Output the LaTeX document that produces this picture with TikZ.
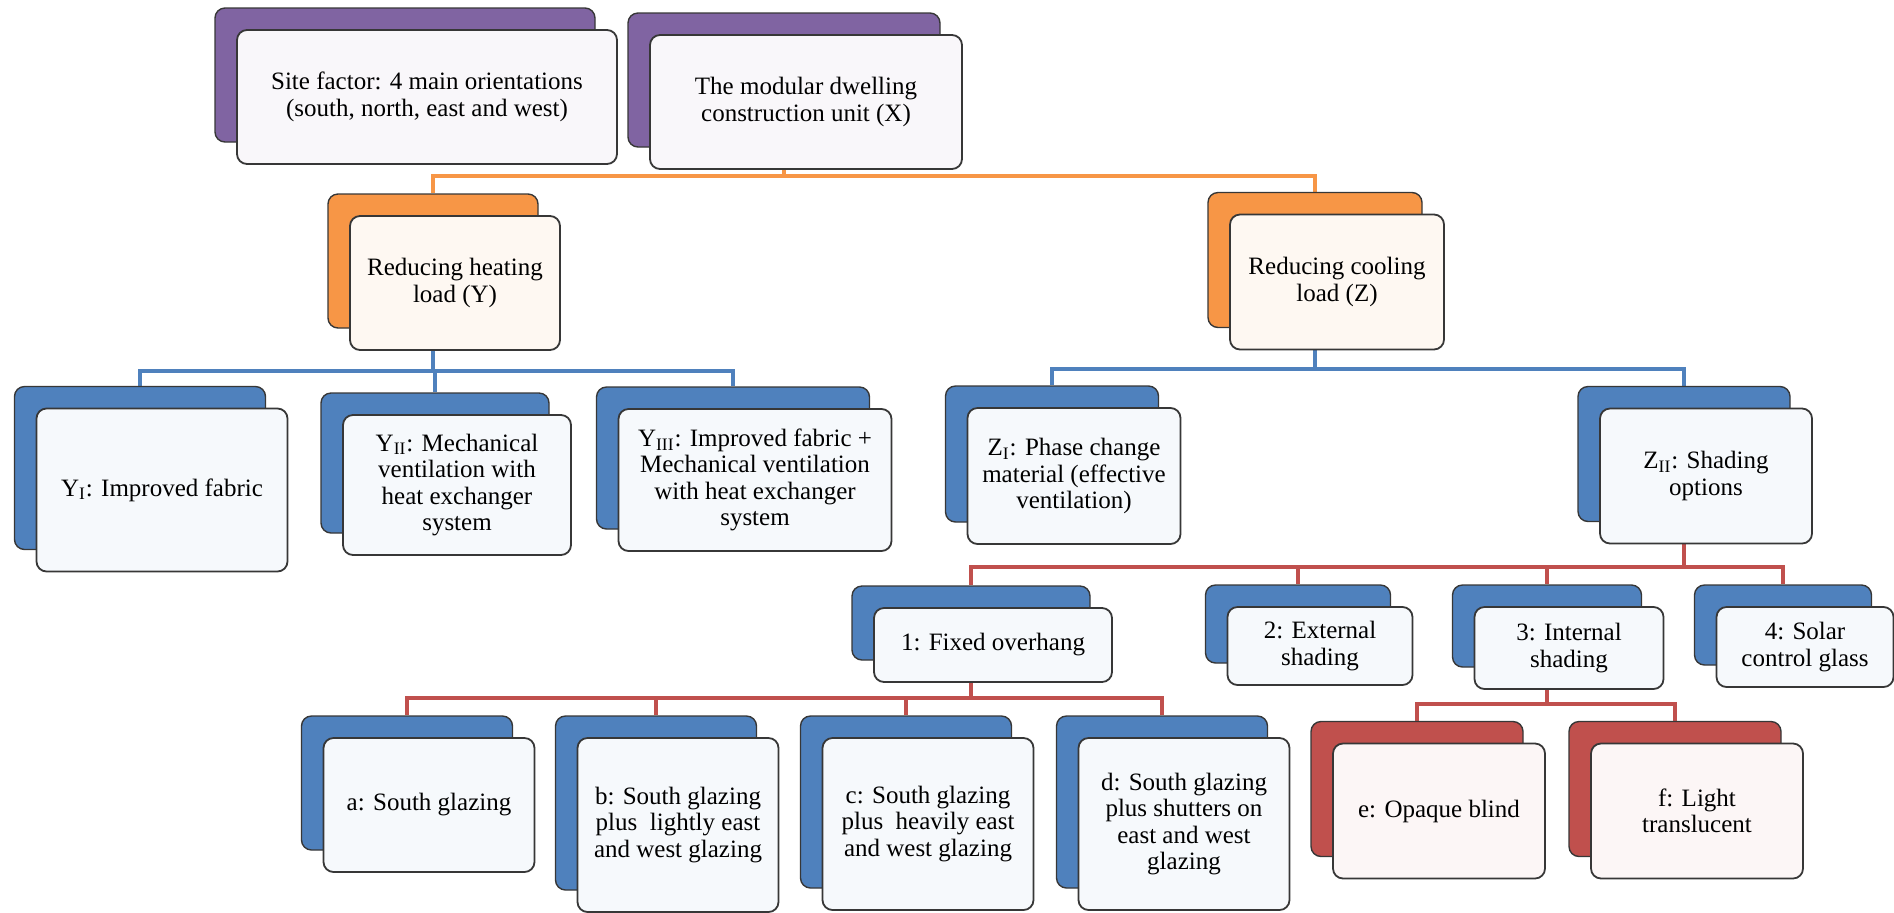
\documentclass[tikz,border=0pt]{standalone}
\usepackage{fontspec}
\setmainfont{Liberation Serif}
\usetikzlibrary{backgrounds}
\definecolor{accpurple}{RGB}{128,100,162}
\definecolor{accorange}{RGB}{247,150,70}
\definecolor{accblue}{RGB}{79,129,189}
\definecolor{accred}{RGB}{192,80,77}
\definecolor{boxline}{RGB}{55,55,55}

\begin{document}
\begin{tikzpicture}[x=0.5pt, y=-0.5pt,
    every node/.style={font=\fontsize{12.5}{13.2}\selectfont, align=center, inner sep=0pt},
    boxsize/.style 2 args={minimum width=#1*0.5pt, minimum height=#2*0.5pt},
    backbox/.style={draw=boxline, line width=0.7pt, rounded corners=5pt},
    frontbox/.style={draw=boxline, line width=0.9pt, rounded corners=5pt, xshift=11pt, yshift=-11pt},
    link/.style={line width=1.8pt}]
    \useasboundingbox (0,0) rectangle (1894,912);

    % Site factor and construction unit
    \node[backbox, boxsize={380}{134}, fill=accpurple] (siteB) at (405,75) {};
    \node[frontbox, boxsize={380}{134}, fill=accpurple!5] (site) at (siteB) {Site factor: 4 main orientations\\(south, north, east and west)};
    \node[backbox, boxsize={312}{134}, fill=accpurple] (unitB) at (784,80) {};
    \node[frontbox, boxsize={312}{134}, fill=accpurple!5] (unit) at (unitB) {The modular dwelling\\construction unit (X)};

    % Heating and cooling load
    \node[backbox, boxsize={210}{134}, fill=accorange] (heatB) at (433,261) {};
    \node[frontbox, boxsize={210}{134}, fill=accorange!7] (heat) at (heatB) {Reducing heating\\load (Y)};
    \node[backbox, boxsize={214}{135}, fill=accorange] (coolB) at (1315,260) {};
    \node[frontbox, boxsize={214}{135}, fill=accorange!7] (cool) at (coolB) {Reducing cooling\\load (Z)};

    % Heating options
    \node[backbox, boxsize={251}{163}, fill=accblue] (y1B) at (140,468) {};
    \node[frontbox, boxsize={251}{163}, fill=accblue!5] (y1) at (y1B) {Y\textsubscript{I}: Improved fabric};
    \node[backbox, boxsize={228}{140}, fill=accblue] (y2B) at (435,463) {};
    \node[frontbox, boxsize={228}{140}, fill=accblue!5] (y2) at (y2B) {Y\textsubscript{II}: Mechanical\\ventilation with\\heat exchanger\\system};
    \node[backbox, boxsize={273}{142}, fill=accblue] (y3B) at (733,458) {};
    \node[frontbox, boxsize={273}{142}, fill=accblue!5] (y3) at (y3B) {Y\textsubscript{III}: Improved fabric +\\Mechanical ventilation\\with heat exchanger\\system};

    % Cooling options
    \node[backbox, boxsize={213}{136}, fill=accblue] (z1B) at (1052,454) {};
    \node[frontbox, boxsize={213}{136}, fill=accblue!5] (z1) at (z1B) {Z\textsubscript{I}: Phase change\\material (effective\\ventilation)};
    \node[backbox, boxsize={212}{135}, fill=accblue] (z2B) at (1684,454) {};
    \node[frontbox, boxsize={212}{135}, fill=accblue!5] (z2) at (z2B) {Z\textsubscript{II}: Shading\\options};

    % Shading options
    \node[backbox, boxsize={238}{74}, fill=accblue] (fixB) at (971,623) {};
    \node[frontbox, boxsize={238}{74}, fill=accblue!5] (fix) at (fixB) {1: Fixed overhang};
    \node[backbox, boxsize={185}{78}, fill=accblue] (extB) at (1298,624) {};
    \node[frontbox, boxsize={185}{78}, fill=accblue!5] (ext) at (extB) {2: External\\shading};
    \node[backbox, boxsize={189}{82}, fill=accblue] (intB) at (1547,626) {};
    \node[frontbox, boxsize={189}{82}, fill=accblue!5] (int) at (intB) {3: Internal\\shading};
    \node[backbox, boxsize={177}{80}, fill=accblue] (solB) at (1783,625) {};
    \node[frontbox, boxsize={177}{80}, fill=accblue!5] (sol) at (solB) {4: Solar\\control glass};

    % Glazing cases under the overhang
    \node[backbox, boxsize={211}{134}, fill=accblue] (aB) at (407,783) {};
    \node[frontbox, boxsize={211}{134}, fill=accblue!5] (a) at (aB) {a: South glazing};
    \node[backbox, boxsize={201}{174}, fill=accblue] (bB) at (656,803) {};
    \node[frontbox, boxsize={201}{174}, fill=accblue!5] (b) at (bB) {b: South glazing\\plus~ lightly east\\and west glazing};
    \node[backbox, boxsize={211}{172}, fill=accblue] (cB) at (906,802) {};
    \node[frontbox, boxsize={211}{172}, fill=accblue!5] (c) at (cB) {c: South glazing\\plus~ heavily east\\and west glazing};
    \node[backbox, boxsize={211}{172}, fill=accblue] (dB) at (1162,802) {};
    \node[frontbox, boxsize={211}{172}, fill=accblue!5] (d) at (dB) {d: South glazing\\plus shutters on\\east and west\\glazing};

    % Internal shading types
    \node[backbox, boxsize={212}{135}, fill=accred] (eB) at (1417,789) {};
    \node[frontbox, boxsize={212}{135}, fill=accred!5] (e) at (eB) {e: Opaque blind};
    \node[backbox, boxsize={212}{135}, fill=accred] (fB) at (1675,789) {};
    \node[frontbox, boxsize={212}{135}, fill=accred!5] (f) at (fB) {f: Light\\translucent};

    % Connectors
    \begin{pgfonlayer}{background}
        \foreach \c in {heatB,coolB}
            \draw[link, accorange] (unitB.south) -- ++(0,28) -| (\c.north);
        \foreach \c in {y1B,y2B,y3B}
            \draw[link, accblue] (heatB.south) -- ++(0,42) -| (\c.north);
        \foreach \c in {z1B,z2B}
            \draw[link, accblue] (coolB.south) -- ++(0,41) -| (\c.north);
        \foreach \c in {fixB,extB,intB,solB}
            \draw[link, accred] (z2B.south) -- ++(0,45) -| (\c.north);
        \foreach \c in {aB,bB,cB,dB}
            \draw[link, accred] (fixB.south) -- ++(0,37) -| (\c.north);
        \foreach \c in {eB,fB}
            \draw[link, accred] (intB.south) -- ++(0,36) -| (\c.north);
    \end{pgfonlayer}
\end{tikzpicture}
\end{document}
